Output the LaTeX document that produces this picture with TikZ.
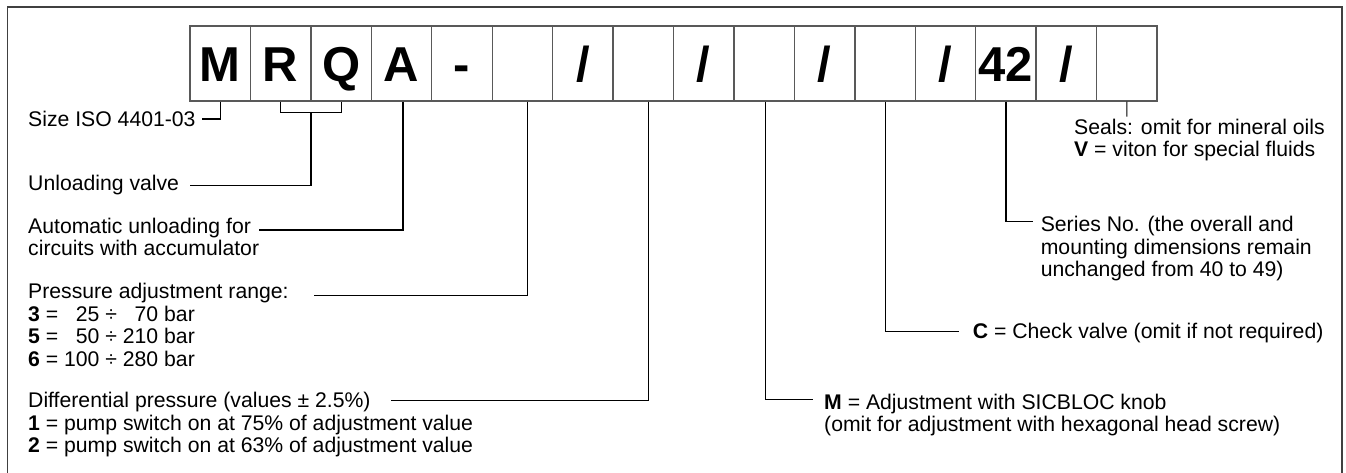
\documentclass[tikz,border=0pt]{standalone}
\usepackage{fontspec}
\setmainfont{Liberation Sans}
\newcommand\codeslash{/}
\begin{document}
\begin{tikzpicture}[x=1pt,y=-1pt,
  frame/.style={draw=black!75,line width=1.4pt},
  cbox/.style={draw=black!65,line width=1.4pt,inner sep=0pt,minimum width=60.44pt,
    minimum height=75pt,text height=35.1pt,text depth=0pt,
    font=\fontsize{49}{49}\selectfont\bfseries},
  conn/.style={draw=black,line width=1.1pt},
  lbl/.style={anchor=base west,inner sep=0pt,font=\fontsize{21.2}{22.5}\selectfont}]
\useasboundingbox (0,0) rectangle (1346,472);
\draw[frame] (7.2,473) -- (7.2,6.8) -- (1342,6.8) -- (1342,473);
% code boxes
\foreach \i/\t in {1/M,2/R,3/Q,4/A,5/-,6/{},7/\codeslash,8/{},9/\codeslash,10/{},11/\codeslash,12/{},13/\codeslash,14/42,15/\codeslash,16/{}}
  \node[cbox] (b\i) at ({190+60.44*(\i-0.5)},63.5) {\t};
% left labels
\node[lbl] (size) at (28,126) {Size ISO 4401-03};
\node[lbl] (unl) at (28,190) {Unloading valve};
\node[lbl] (auto1) at (28,233) {Automatic unloading for};
\node[lbl] (auto2) at (28,255.5) {circuits with accumulator};
\node[lbl] (pres1) at (28,298.5) {Pressure adjustment range:};
\node[lbl] (pres2) at (28,321) {\textbf{3} = \phantom{1}25 ÷ \phantom{2}70 bar};
\node[lbl] (pres3) at (28,343.5) {\textbf{5} = \phantom{1}50 ÷ 210 bar};
\node[lbl] (pres4) at (28,366) {\textbf{6} = 100 ÷ 280 bar};
\node[lbl] (diff1) at (28,407.5) {Differential pressure (values ± 2.5\%)};
\node[lbl] (diff2) at (28,430) {\textbf{1} = pump switch on at 75\% of adjustment value};
\node[lbl] (diff3) at (28,452.5) {\textbf{2} = pump switch on at 63\% of adjustment value};
% right labels
\node[lbl] (seal1) at (1074,134) {Seals: omit for mineral oils};
\node[lbl] (seal2) at (1074,156.5) {\textbf{V} = viton for special fluids};
\node[lbl] (ser1) at (1040.6,231.5) {Series No. (the overall and};
\node[lbl] (ser2) at (1040.6,254) {mounting dimensions remain};
\node[lbl] (ser3) at (1040.6,276.5) {unchanged from 40 to 49)};
\node[lbl] (chk) at (972.7,338.5) {\textbf{C} = Check valve (omit if not required)};
\node[lbl] (adj1) at (824,409) {\textbf{M} = Adjustment with SICBLOC knob};
\node[lbl] (adj2) at (824,431.5) {(omit for adjustment with hexagonal head screw)};
% connector ends
\coordinate (sizeend) at (202,119);
\coordinate (rqmid) at (311,112.3);
\coordinate (unlend) at (190,185.5);
\coordinate (autoend) at (259,230);
\coordinate (presend) at (314,295.7);
\coordinate (diffend) at (390.6,400.7);
\coordinate (adjend) at (813,399.3);
\coordinate (chkend) at (959.4,331.7);
\coordinate (serend) at (1032.6,221.7);
\coordinate (sealend) at (1126.8,116.7);
% connectors
\draw[conn] (b1.south) |- (sizeend);
\draw[conn] (b2.south) |- (rqmid) -| (b3.south);
\draw[conn] (rqmid) |- (unlend);
\draw[conn] ([xshift=1.5pt]b4.south) |- (autoend);
\draw[conn] ([xshift=5pt]b6.south) |- (presend);
\draw[conn] ([xshift=5pt]b8.south) |- (diffend);
\draw[conn] ([xshift=1pt]b10.south) |- (adjend);
\draw[conn] (b12.south) |- (chkend);
\draw[conn] (b14.south) |- (serend);
\draw[conn] (b16.south) -- (sealend);
\end{tikzpicture}
\end{document}
